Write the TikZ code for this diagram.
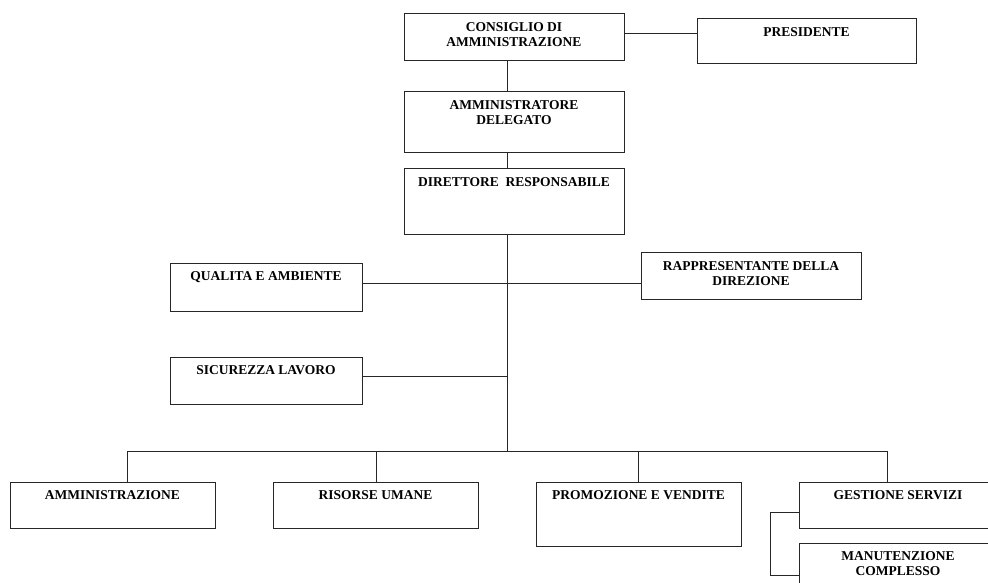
\documentclass[tikz,border=0pt]{standalone}
\usepackage{fontspec}
\setmainfont{Liberation Serif}
\begin{document}
\begin{tikzpicture}[x=1pt,y=-1pt,
  box/.style={draw=black!85,line width=1pt,rectangle,inner sep=0pt},
  lbl/.style={anchor=north,yshift=-9pt,inner sep=0pt,align=center,
    font=\fontsize{13.5}{15}\selectfont\bfseries,label distance=0pt},
  conn/.style={draw=black!85,line width=1pt}]
\useasboundingbox (0,0) rectangle (988,583);
% boxes
\node[box,minimum width=220pt,minimum height=47pt,label={[lbl]north:{CONSIGLIO DI\\AMMINISTRAZIONE}}] (cda) at (514,37.5) {};
\node[box,minimum width=219pt,minimum height=45pt,label={[lbl]north:{PRESIDENTE}}] (pres) at (806.5,41.5) {};
\node[box,minimum width=220pt,minimum height=61pt,label={[lbl]north:{AMMINISTRATORE\\DELEGATO}}] (ad) at (514,122.5) {};
\node[box,minimum width=220pt,minimum height=65pt,label={[lbl]north:{DIRETTORE\ \ RESPONSABILE}}] (dr) at (514,201.5) {};
\node[box,minimum width=192pt,minimum height=48pt,label={[lbl]north:{QUALITA E AMBIENTE}}] (qa) at (266,287) {};
\node[box,minimum width=220pt,minimum height=47pt,label={[lbl,yshift=-1pt]north:{RAPPRESENTANTE DELLA\\DIREZIONE}}] (rd) at (751,275.5) {};
\node[box,minimum width=192pt,minimum height=47pt,label={[lbl]north:{SICUREZZA LAVORO}}] (sl) at (266,380.5) {};
\node[box,minimum width=205pt,minimum height=46pt,label={[lbl]north:{AMMINISTRAZIONE}}] (amm) at (112.5,505) {};
\node[box,minimum width=205pt,minimum height=46pt,label={[lbl]north:{RISORSE UMANE}}] (ru) at (375.5,505) {};
\node[box,minimum width=205pt,minimum height=64pt,label={[lbl]north:{PROMOZIONE E VENDITE}}] (pv) at (638.5,514) {};
\node[box,minimum width=198pt,minimum height=46pt,label={[lbl]north:{GESTIONE SERVIZI}}] (gs) at (898,505) {};
\node[box,minimum width=198pt,minimum height=61pt,label={[lbl]north:{MANUTENZIONE\\COMPLESSO}}] (mt) at (898,573.5) {};
% junction coordinates
\coordinate (t0) at (660,34);
\coordinate (t1) at (507,0);
\coordinate (bus) at (507,451);
\coordinate (jq) at (507,283);
\coordinate (js) at (507,376);
\coordinate (ba) at (127,451);
\coordinate (bb) at (376,451);
\coordinate (bc) at (638,451);
\coordinate (bd) at (887,451);
\coordinate (k1) at (770,512);
\coordinate (k2) at (770,575);
% connectors
\draw[conn] (cda.east |- t0) -- (pres.west |- t0);
\draw[conn] (cda.south -| t1) -- (ad.north -| t1);
\draw[conn] (ad.south -| t1) -- (dr.north -| t1);
\draw[conn] (dr.south -| t1) -- (bus);
\draw[conn] (qa.east |- jq) -- (rd.west |- jq);
\draw[conn] (sl.east |- js) -- (js);
\draw[conn] (ba |- amm.north) -- (ba) -- (bd) -- (bd |- gs.north);
\draw[conn] (bb) -- (bb |- ru.north);
\draw[conn] (bc) -- (bc |- pv.north);
\draw[conn] (gs.west |- k1) -- (k1) -- (k2) -- (mt.west |- k2);
\end{tikzpicture}
\end{document}
